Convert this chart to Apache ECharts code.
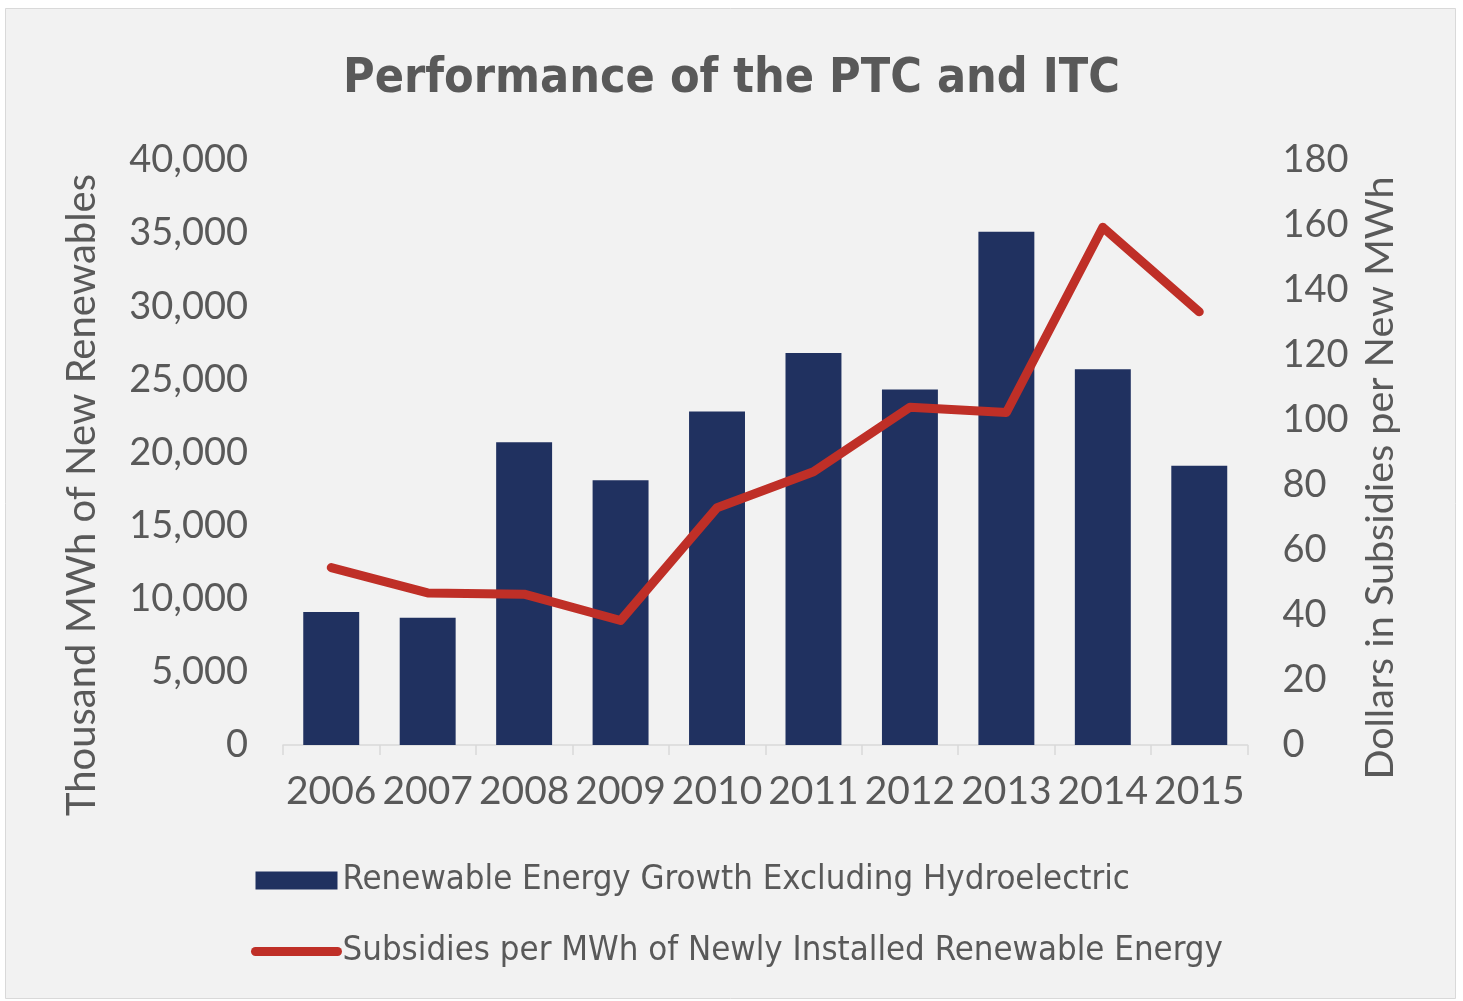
<!DOCTYPE html>
<html>
<head>
<meta charset="utf-8">
<script src="https://cdn.jsdelivr.net/npm/echarts@6/dist/echarts.min.js"></script>
<style>
  html, body { margin: 0; padding: 0; background: #ffffff; }
  #chart { width: 1463px; height: 1001px; }
</style>
</head>
<body>
<div id="chart"></div>
<script>
const categories = ['2006', '2007', '2008', '2009', '2010', '2011', '2012', '2013', '2014', '2015'];
const renewableGrowth = [9100, 8700, 20700, 18100, 22800, 26800, 24300, 35100, 25700, 19100];
const subsidiesPerMWh = [54.6, 46.8, 46.4, 38.3, 73.0, 84.1, 103.9, 102.3, 159.3, 133.3];
const seriesNames = ['Renewable Energy Growth Excluding Hydroelectric', 'Subsidies per MWh of Newly Installed Renewable Energy'];
const chartTitle = 'Performance of the PTC and ITC';
const leftAxisName = 'Thousand MWh of New Renewables';
const rightAxisName = 'Dollars in Subsidies per New MWh';
const leftAxisRange = { min: 0, max: 40000, interval: 5000 };
const rightAxisRange = { min: 0, max: 180, interval: 20 };

const narrow = "'DejaVu Sans Condensed', Lato, sans-serif";
const textColor = '#595959';
const barColor = '#203160';
const lineColor = '#bf2f27';

const chart = echarts.init(document.getElementById('chart'), null, { renderer: 'canvas' });
chart.setOption({
  backgroundColor: '#ffffff',
  animation: false,
  graphic: [{
    type: 'rect', z: -10, silent: true,
    shape: { x: 5.5, y: 8.5, width: 1450, height: 990 },
    style: { fill: '#f2f2f2', stroke: '#d9d9d9', lineWidth: 1 }
  }],
  title: {
    text: chartTitle,
    left: 'center',
    top: 51,
    textStyle: { fontFamily: narrow, fontSize: 48, fontWeight: 'bold', color: textColor }
  },
  legend: {
    orient: 'vertical',
    left: 251,
    top: 863,
    padding: 0,
    itemWidth: 82,
    itemHeight: 18,
    itemGap: 36,
    textStyle: { fontFamily: narrow, fontSize: 34.5, color: textColor },
    data: [
      { name: seriesNames[0], icon: 'rect' },
      { name: seriesNames[1], itemStyle: { opacity: 0 }, lineStyle: { width: 9, cap: 'round', color: lineColor } }
    ]
  },
  grid: { left: 283, right: 215.5, top: 160, height: 585, containLabel: false },
  xAxis: {
    type: 'category',
    data: categories,
    boundaryGap: true,
    axisLine: { show: true, lineStyle: { color: '#d9d9d9', width: 1.5 } },
    axisTick: { show: true, length: 10, lineStyle: { color: '#d9d9d9', width: 1.5 } },
    splitLine: { show: false },
    axisLabel: { interval: 0, hideOverlap: false, margin: 27, fontFamily: 'Lato, sans-serif', fontSize: 39, color: textColor }
  },
  yAxis: [{
    type: 'value',
    min: leftAxisRange.min, max: leftAxisRange.max, interval: leftAxisRange.interval,
    name: leftAxisName,
    nameLocation: 'middle',
    nameGap: 181,
    nameTextStyle: { fontFamily: 'Lato, sans-serif', fontSize: 40, color: textColor, padding: [0, 85, 0, 0] },
    axisLine: { show: false }, axisTick: { show: false }, splitLine: { show: false },
    axisLabel: {
      margin: 35, fontFamily: 'Lato, sans-serif', fontSize: 38, color: textColor,
      formatter: v => v.toLocaleString('en-US')
    }
  }, {
    type: 'value',
    position: 'right',
    min: rightAxisRange.min, max: rightAxisRange.max, interval: rightAxisRange.interval,
    name: rightAxisName,
    nameLocation: 'middle',
    nameGap: 113,
    nameTextStyle: { fontFamily: 'Lato, sans-serif', fontSize: 39.5, color: textColor, padding: [0, 51, 0, 0] },
    axisLine: { show: false }, axisTick: { show: false }, splitLine: { show: false },
    axisLabel: { margin: 35, fontFamily: 'Lato, sans-serif', fontSize: 38, color: textColor }
  }],
  series: [{
    name: seriesNames[0],
    type: 'bar',
    data: renewableGrowth,
    barWidth: '58%',
    itemStyle: { color: barColor }
  }, {
    name: seriesNames[1],
    type: 'line',
    yAxisIndex: 1,
    data: subsidiesPerMWh,
    symbol: 'none',
    z: 5,
    itemStyle: { color: lineColor },
    lineStyle: { color: lineColor, width: 9, cap: 'round', join: 'round' }
  }]
});
</script>
</body>
</html>
